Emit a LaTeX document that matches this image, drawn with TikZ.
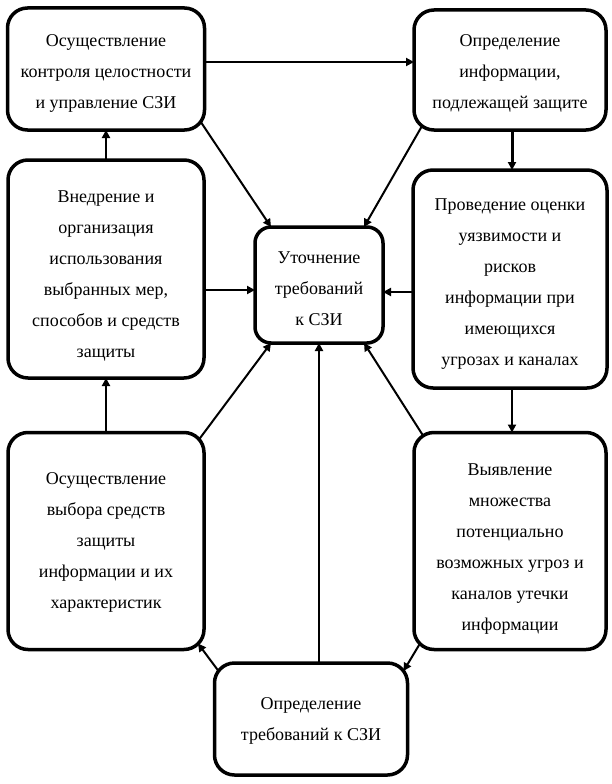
\documentclass[tikz,border=0pt]{standalone}
\usepackage{fontspec}
\setmainfont{Liberation Serif}
\usetikzlibrary{arrows.meta}

\tikzset{
  etap/.style={draw, line width=3.5pt, rounded corners=20pt, outer sep=0pt,
    align=center, font=\fontsize{18}{31}\selectfont, inner sep=0pt},
  niz/.style={text height=#1, text depth=0pt},
  arr/.style={line width=2pt, -{Triangle[length=8pt,width=8pt]}}
}

\begin{document}
\begin{tikzpicture}[x=1pt,y=-1pt]
\useasboundingbox (0,0) rectangle (612,784);

% les etapes
\node[etap, niz=78pt, minimum width=197pt, minimum height=122pt] (kontrol) at (106,69)
  {Осуществление\\контроля целостности\\и управление СЗИ};
\node[etap, niz=76pt, minimum width=192pt, minimum height=120pt] (opredinf) at (510,70)
  {Определение\\информации,\\подлежащей защите};
\node[etap, niz=176pt, minimum width=196pt, minimum height=218pt] (vnedr) at (106,269)
  {Внедрение и\\организация\\использования\\выбранных мер,\\способов и средств\\защиты};
\node[etap, niz=80pt, minimum width=128pt, minimum height=116pt, rounded corners=16pt] (utoch) at (319,285)
  {Уточнение\\требований\\к СЗИ};
\node[etap, niz=172pt, minimum width=194pt, minimum height=218pt] (ocenka) at (510,279)
  {Проведение оценки\\уязвимости и\\рисков\\информации при\\имеющихся\\угрозах и каналах};
\node[etap, niz=134pt, minimum width=196pt, minimum height=217pt] (vybor) at (106,541)
  {Осуществление\\выбора средств\\защиты\\информации и их\\характеристик};
\node[etap, niz=178pt, minimum width=192pt, minimum height=217pt] (ugroz) at (510,541)
  {Выявление\\множества\\потенциально\\возможных угроз и\\каналов утечки\\информации};
\node[etap, niz=42pt, minimum width=193pt, minimum height=112pt] (opredtreb) at (311,719)
  {Определение\\требований к СЗИ};

% le cycle
\draw[arr] ([yshift=7pt]kontrol.east) -- ([yshift=7pt]kontrol.east -| opredinf.west);
\draw[arr, line width=3pt] ([xshift=2pt]opredinf.south) -- ([xshift=2pt]opredinf.south |- ocenka.north);
\draw[arr] ([xshift=2pt]ocenka.south) -- ([xshift=2pt]ocenka.south |- ugroz.north);
\draw[arr] ([xshift=6pt,yshift=6pt]ugroz.south west) -- ([xshift=-4pt,yshift=-8pt]opredtreb.north east);
\draw[arr] ([xshift=4pt,yshift=-8pt]opredtreb.north west) -- ([xshift=-6pt,yshift=6pt]vybor.south east);
\draw[arr] (vybor.north) -- (vybor.north |- vnedr.south);
\draw[arr] (vnedr.north) -- (vnedr.north |- kontrol.south);

% les liaisons vers le centre
\draw[arr] ([xshift=-4pt,yshift=8.5pt]kontrol.south east) -- ([xshift=16pt]utoch.north west);
\draw[arr] ([xshift=8pt,yshift=4pt]opredinf.south west) -- ([xshift=-19pt]utoch.north east);
\draw[arr] ([yshift=-21pt]vnedr.east) -- ([yshift=-21pt]vnedr.east -| utoch.west);
\draw[arr] ([yshift=-13pt]ocenka.west) -- ([yshift=-13pt]ocenka.west -| utoch.east);
\draw[arr] ([xshift=-5pt,yshift=-7pt]vybor.north east) -- ([xshift=16pt]utoch.south west);
\draw[arr] (opredtreb.north -| utoch.south) -- (utoch.south);
\draw[arr] ([xshift=9pt,yshift=-3pt]ugroz.north west) -- ([xshift=-19pt]utoch.south east);
\end{tikzpicture}
\end{document}
